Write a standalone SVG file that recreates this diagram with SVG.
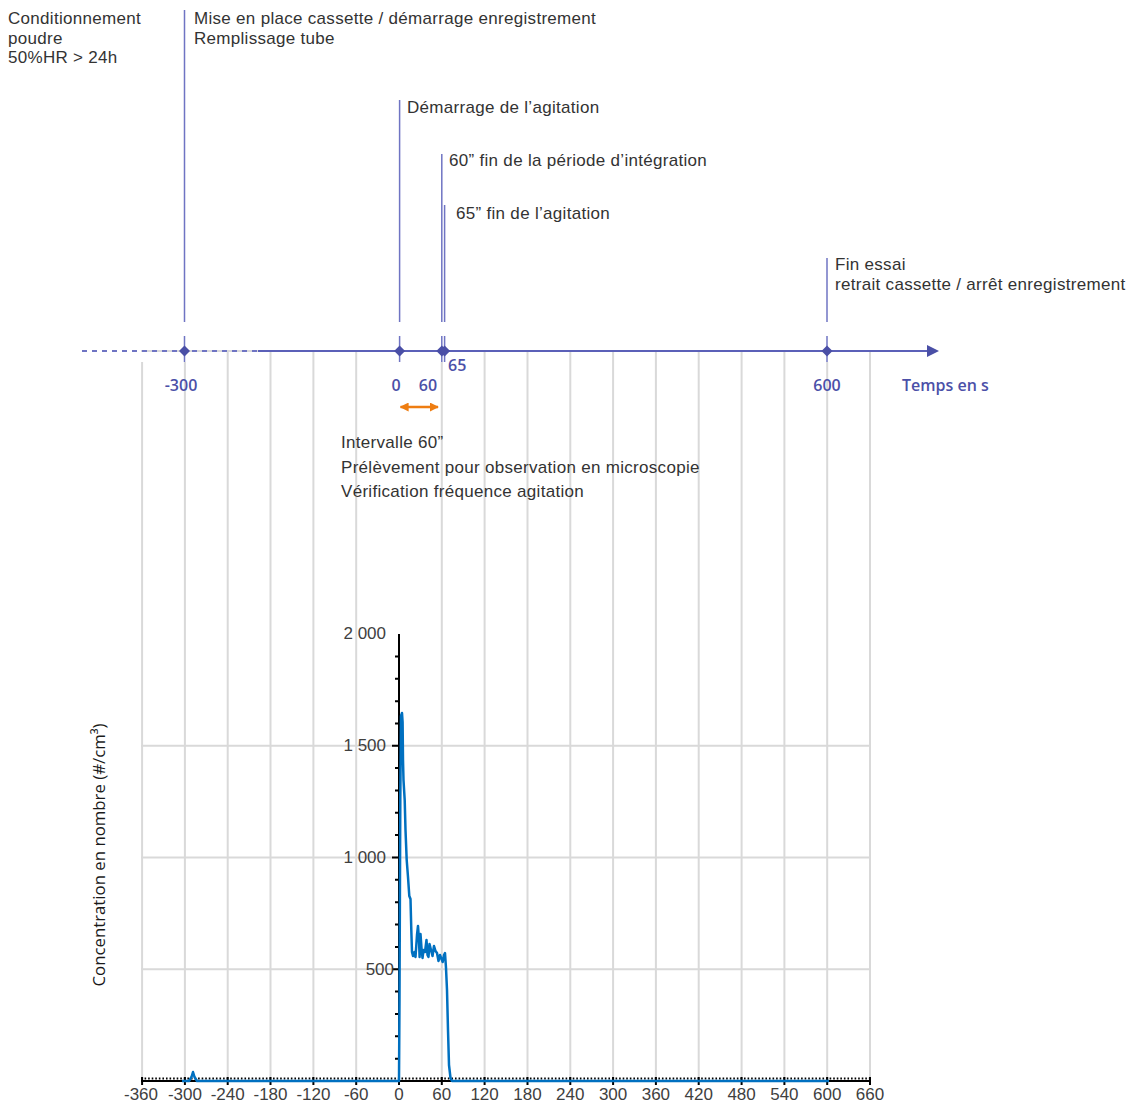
<svg xmlns="http://www.w3.org/2000/svg" width="1138" height="1104" viewBox="0 0 1138 1104">
<defs>
<style>
.txt{font-family:"Liberation Sans",Arial,sans-serif;font-size:17px;letter-spacing:0.3px;fill:#333333}
.tl{font-family:"Open Sans","Liberation Sans",sans-serif;font-size:16px;font-weight:600;fill:#4b50a8}
.num{font-family:"Liberation Sans",Arial,sans-serif;font-size:17px;fill:#404040}
.ytitle{font-family:"Open Sans","Liberation Sans",sans-serif;font-size:16.8px;font-weight:500;fill:#1a1a1a}
.ev{stroke:#6f74c3;stroke-width:1.5;fill:none}
.grid{stroke:#d9d9d9;stroke-width:2;fill:none}
.dia{fill:#4a4fa6}
</style>
<marker id="tri" viewBox="0 0 12 12" refX="1" refY="6" markerWidth="12" markerHeight="12" markerUnits="userSpaceOnUse" orient="auto"><path d="M0,0 L12,6 L0,12 Z" fill="#4a4fa6"/></marker>
<marker id="oa" viewBox="0 0 10 10" refX="9" refY="5" markerWidth="9" markerHeight="9" markerUnits="userSpaceOnUse" orient="auto-start-reverse"><path d="M0,0 L10,5 L0,10 Z" fill="#ee7d11"/></marker>
<path id="d" d="M0,-5.5 L5.5,0 L0,5.5 L-5.5,0 Z"/>
</defs>
<rect width="1138" height="1104" fill="#ffffff"/>

<g id="grid">
<line class="grid" x1="141" y1="351" x2="870" y2="351"/>
<line class="grid" x1="142.1" y1="362" x2="142.1" y2="1081"/>
<line class="grid" x1="184.9" y1="362" x2="184.9" y2="1081"/>
<line class="grid" x1="227.7" y1="351" x2="227.7" y2="1081"/>
<line class="grid" x1="270.5" y1="351" x2="270.5" y2="1081"/>
<line class="grid" x1="313.4" y1="351" x2="313.4" y2="1081"/>
<line class="grid" x1="356.2" y1="351" x2="356.2" y2="1081"/>
<line class="grid" x1="441.8" y1="362" x2="441.8" y2="1081"/>
<line class="grid" x1="484.6" y1="351" x2="484.6" y2="1081"/>
<line class="grid" x1="527.5" y1="351" x2="527.5" y2="1081"/>
<line class="grid" x1="570.3" y1="351" x2="570.3" y2="1081"/>
<line class="grid" x1="613.1" y1="351" x2="613.1" y2="1081"/>
<line class="grid" x1="655.9" y1="351" x2="655.9" y2="1081"/>
<line class="grid" x1="698.7" y1="351" x2="698.7" y2="1081"/>
<line class="grid" x1="741.6" y1="351" x2="741.6" y2="1081"/>
<line class="grid" x1="784.4" y1="351" x2="784.4" y2="1081"/>
<line class="grid" x1="827.2" y1="362" x2="827.2" y2="1081"/>
<line class="grid" x1="870" y1="351" x2="870" y2="1081"/>
<line class="grid" x1="141" y1="969.25" x2="870" y2="969.25"/>
<line class="grid" x1="141" y1="857.5" x2="870" y2="857.5"/>
<line class="grid" x1="141" y1="745.75" x2="870" y2="745.75"/>
</g>

<g id="connectors">
<line x1="82" y1="351" x2="258" y2="351" stroke="#6f74c3" stroke-width="2" stroke-dasharray="5 5"/>
<line x1="258" y1="351" x2="928" y2="351" stroke="#5b60b8" stroke-width="2" marker-end="url(#tri)"/>
<line class="ev" x1="184.5" y1="10" x2="184.5" y2="322"/>
<line class="ev" x1="184.5" y1="336" x2="184.5" y2="362"/>
<line class="ev" x1="399.6" y1="100" x2="399.6" y2="322"/>
<line class="ev" x1="399.6" y1="336" x2="399.6" y2="362"/>
<line class="ev" x1="441.8" y1="154" x2="441.8" y2="322"/>
<line class="ev" x1="441.8" y1="336" x2="441.8" y2="362"/>
<line class="ev" x1="444.6" y1="205" x2="444.6" y2="322"/>
<line class="ev" x1="444.6" y1="336" x2="444.6" y2="362"/>
<line class="ev" x1="827" y1="258" x2="827" y2="322"/>
<line class="ev" x1="827" y1="336" x2="827" y2="362"/>
<line x1="400.5" y1="407" x2="438" y2="407" stroke="#ee7d11" stroke-width="2.5" marker-start="url(#oa)" marker-end="url(#oa)"/>
</g>

<g id="markers">
<use href="#d" class="dia" x="184.5" y="351"/>
<use href="#d" class="dia" x="399.6" y="351"/>
<use href="#d" class="dia" x="441.8" y="351"/>
<use href="#d" class="dia" x="444.6" y="351"/>
<use href="#d" class="dia" x="827" y="351"/>
</g>

<g id="node-conditionnement">
<text class="txt" x="8" y="24">Conditionnement</text>
<text class="txt" x="8" y="43.5">poudre</text>
<text class="txt" x="8" y="63">50%HR &gt; 24h</text>
</g>
<g id="node-mise-en-place">
<text class="txt" x="194" y="24">Mise en place cassette / démarrage enregistrement</text>
<text class="txt" x="194" y="43.5">Remplissage tube</text>
</g>
<g id="node-demarrage">
<text class="txt" x="407" y="113">Démarrage de l’agitation</text>
</g>
<g id="node-60">
<text class="txt" x="449" y="166">60” fin de la période d’intégration</text>
</g>
<g id="node-65">
<text class="txt" x="456" y="219">65” fin de l’agitation</text>
</g>
<g id="node-fin">
<text class="txt" x="835" y="270">Fin essai</text>
<text class="txt" x="835" y="289.5">retrait cassette / arrêt enregistrement</text>
</g>
<g id="node-intervalle">
<text class="txt" x="341" y="448">Intervalle 60”</text>
<text class="txt" x="341" y="472.5">Prélèvement pour observation en microscopie</text>
<text class="txt" x="341" y="497">Vérification fréquence agitation</text>
</g>

<g id="timeline-labels">
<text class="tl" x="181" y="391" text-anchor="middle">-300</text>
<text class="tl" x="396" y="391" text-anchor="middle">0</text>
<text class="tl" x="428" y="391" text-anchor="middle">60</text>
<text class="tl" x="448" y="371">65</text>
<text class="tl" x="827" y="391" text-anchor="middle">600</text>
<text class="tl" x="902" y="391">Temps en s</text>
</g>

<g id="chart-axes">
<line x1="141" y1="1081" x2="871" y2="1081" stroke="#000" stroke-width="2"/>
<line x1="141" y1="1078.5" x2="871" y2="1078.5" stroke="#000" stroke-width="2" stroke-dasharray="1.6 1.968"/>
<path d="M142.1,1077V1085M184.9,1077V1085M227.7,1077V1085M270.5,1077V1085M313.4,1077V1085M356.2,1077V1085M399,1077V1085M441.8,1077V1085M484.6,1077V1085M527.5,1077V1085M570.3,1077V1085M613.1,1077V1085M655.9,1077V1085M698.7,1077V1085M741.6,1077V1085M784.4,1077V1085M827.2,1077V1085M870,1077V1085" stroke="#000" stroke-width="2"/>
<line x1="399" y1="634" x2="399" y2="1081" stroke="#000" stroke-width="2"/>
<path d="M395,656.4H399M395,678.8H399M395,701.2H399M395,723.4H399M392,745.75H399M395,768.1H399M395,790.5H399M395,812.8H399M395,835.1H399M392,857.5H399M395,879.8H399M395,902.2H399M395,924.5H399M395,946.9H399M392,969.25H399M395,991.6H399M395,1014H399M395,1036.3H399M395,1058.7H399" stroke="#000" stroke-width="2"/>
</g>

<g id="chart-labels">
<text class="num" x="386" y="639" text-anchor="end">2 000</text>
<text class="num" x="386" y="751" text-anchor="end">1 500</text>
<text class="num" x="386" y="863" text-anchor="end">1 000</text>
<text class="num" x="394" y="975" text-anchor="end">500</text>
<text class="num" x="141" y="1100" text-anchor="middle">-360</text>
<text class="num" x="184.9" y="1100" text-anchor="middle">-300</text>
<text class="num" x="227.7" y="1100" text-anchor="middle">-240</text>
<text class="num" x="270.5" y="1100" text-anchor="middle">-180</text>
<text class="num" x="313.4" y="1100" text-anchor="middle">-120</text>
<text class="num" x="356.2" y="1100" text-anchor="middle">-60</text>
<text class="num" x="399" y="1100" text-anchor="middle">0</text>
<text class="num" x="441.8" y="1100" text-anchor="middle">60</text>
<text class="num" x="484.6" y="1100" text-anchor="middle">120</text>
<text class="num" x="527.5" y="1100" text-anchor="middle">180</text>
<text class="num" x="570.3" y="1100" text-anchor="middle">240</text>
<text class="num" x="613.1" y="1100" text-anchor="middle">300</text>
<text class="num" x="655.9" y="1100" text-anchor="middle">360</text>
<text class="num" x="698.7" y="1100" text-anchor="middle">420</text>
<text class="num" x="741.6" y="1100" text-anchor="middle">480</text>
<text class="num" x="784.4" y="1100" text-anchor="middle">540</text>
<text class="num" x="827.2" y="1100" text-anchor="middle">600</text>
<text class="num" x="870" y="1100" text-anchor="middle">660</text>
<text class="ytitle" transform="translate(105,855) rotate(-90)" text-anchor="middle">Concentration en nombre (#/cm³)</text>
</g>

<g id="series">
<path d="M182,1081 L189,1081 L191.5,1077 L193,1072 L194.5,1077 L197,1081 L399,1081 L399.5,1000 L400.3,800 L401,716 L402,713 L402.6,722 L403,760 L403.5,780 L404.7,800 L405.5,830 L406.7,860 L408,877 L409.3,896 L410.5,899 L411.3,930 L412,952 L413,956 L414.5,952 L415.5,957 L417,935 L418,926 L419,940 L419.6,957 L420.5,934 L421.5,948 L422.5,958 L423.5,950 L425,952 L426.5,940 L427.5,955 L428.5,957 L429.5,944 L431,950 L432.5,956 L434,946 L435.5,951 L437,953 L438.5,961 L440,955 L441.5,959 L442.7,962 L444,955 L445,953 L446,968 L447,990 L448,1030 L449,1065 L450.5,1078 L452,1081 L829,1081" fill="none" stroke="#0070c0" stroke-width="2.5" stroke-linejoin="round"/>
</g>
</svg>
